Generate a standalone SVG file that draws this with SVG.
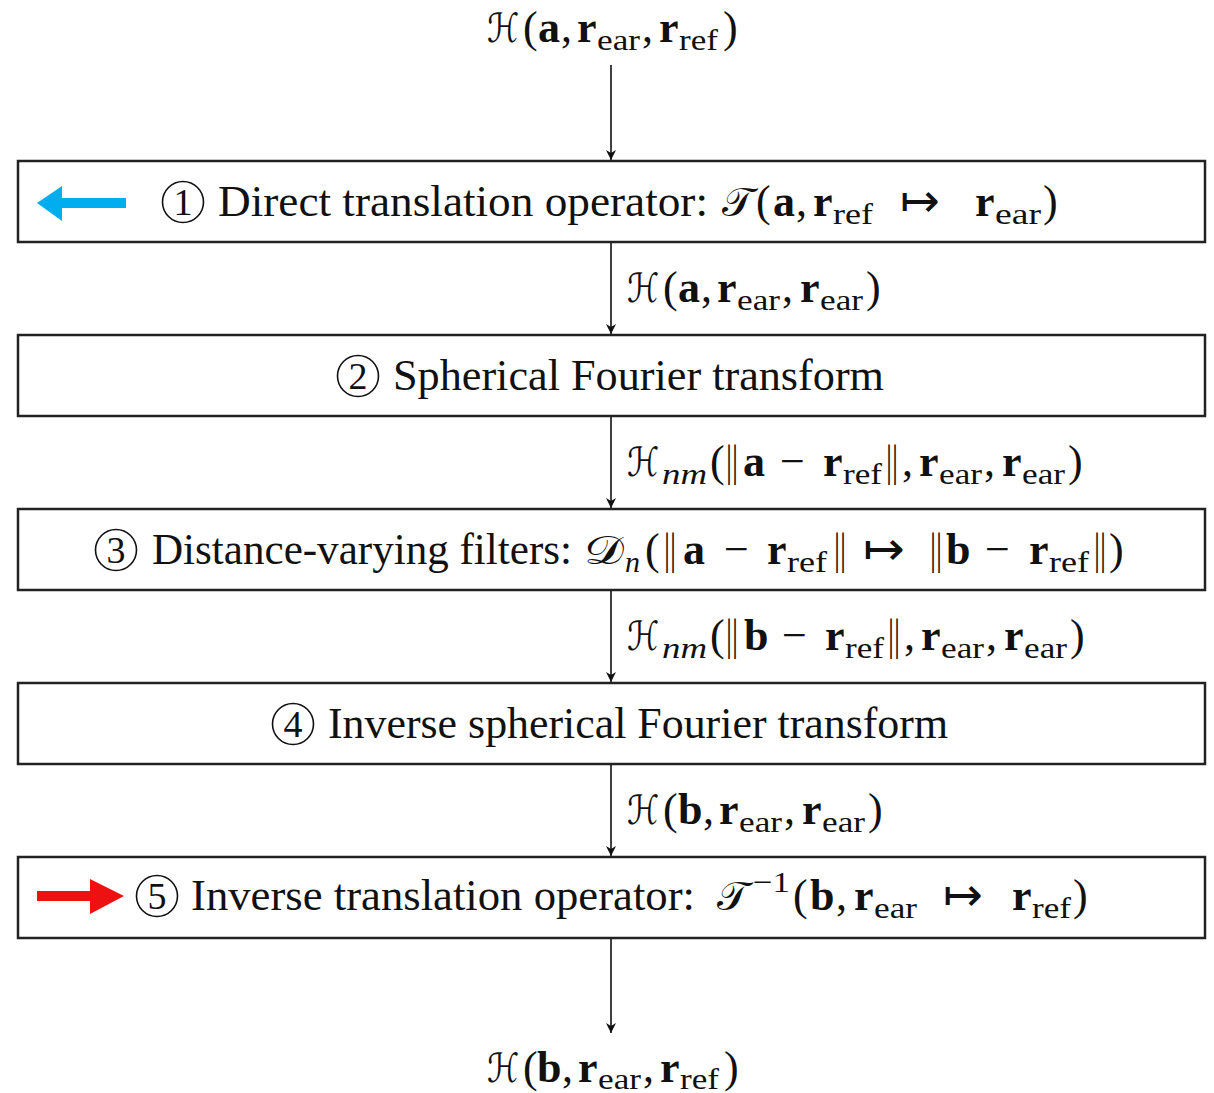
<svg xmlns="http://www.w3.org/2000/svg" width="1214" height="1093" viewBox="0 0 1214 1093">
<defs>
<style>
.m{font-family:"Liberation Serif","Times New Roman",serif;font-size:44px;fill:#111}
.bd{font-weight:bold}
.sb{font-size:30px}
.it{font-style:italic}
.cal{font-family:"DejaVu Sans","Noto Sans",sans-serif;font-style:normal;font-size:40px}
.box{fill:#fff;stroke:#222;stroke-width:2.5}
.num{fill:none;stroke:#111;stroke-width:1.6}
.dg{font-family:"Liberation Serif",serif;font-size:38px;fill:#111;text-anchor:middle}
.con{stroke:#111;stroke-width:1.6;fill:none;marker-end:url(#ah)}
</style>
<marker id="ah" viewBox="0 0 10 12" refX="10" refY="6" markerWidth="10" markerHeight="12" markerUnits="userSpaceOnUse" orient="auto">
<path d="M0,1 L10,6 L0,11 L3,6 Z" fill="#111"/>
</marker>
</defs>
<rect width="1214" height="1093" fill="#fff"/>

<g id="connectors">
<line class="con" x1="611" y1="65" x2="611" y2="160"/>
<line class="con" x1="611" y1="243" x2="611" y2="334"/>
<line class="con" x1="611" y1="417" x2="611" y2="508"/>
<line class="con" x1="611" y1="591" x2="611" y2="682"/>
<line class="con" x1="611" y1="765" x2="611" y2="856"/>
<line class="con" x1="611" y1="939" x2="611" y2="1033"/>
</g>

<g id="label-top">
<text class="m cal" x="487" y="42" textLength="32" lengthAdjust="spacingAndGlyphs">ℋ</text>
<text class="m" x="523" y="42">(</text>
<text class="m bd" x="538" y="42">a</text>
<text class="m" x="561" y="42">,</text>
<text class="m bd" x="577" y="42">r</text>
<text class="m sb" x="597" y="50" textLength="43" lengthAdjust="spacingAndGlyphs">ear</text>
<text class="m" x="642" y="42">,</text>
<text class="m bd" x="659" y="42">r</text>
<text class="m sb" x="679" y="50" textLength="39" lengthAdjust="spacingAndGlyphs">ref</text>
<text class="m" x="723" y="42">)</text>
</g>

<g id="node1">
<rect class="box" x="18" y="161" width="1187" height="81"/>
<polygon points="37,203 62,186 62,198 126,198 126,208 62,208 62,221" fill="#00AEEF"/>
<circle class="num" cx="183" cy="202" r="20.5"/>
<text class="dg" x="183" y="215">1</text>
<text class="m" x="218" y="216" textLength="490" lengthAdjust="spacingAndGlyphs">Direct translation operator:</text>
<text class="m cal" x="722" y="216" textLength="32" lengthAdjust="spacingAndGlyphs">𝒯</text>
<text class="m" x="756" y="216">(</text>
<text class="m bd" x="773" y="216">a</text>
<text class="m" x="796" y="216">,</text>
<text class="m bd" x="813" y="216">r</text>
<text class="m sb" x="833" y="224" textLength="40" lengthAdjust="spacingAndGlyphs">ref</text>
<text class="m" x="900" y="216" textLength="40" lengthAdjust="spacingAndGlyphs">↦</text>
<text class="m bd" x="975" y="216">r</text>
<text class="m sb" x="995" y="224" textLength="46" lengthAdjust="spacingAndGlyphs">ear</text>
<text class="m" x="1043" y="216">)</text>
</g>

<g id="label-1">
<text class="m cal" x="627" y="302" textLength="32" lengthAdjust="spacingAndGlyphs">ℋ</text>
<text class="m" x="663" y="302">(</text>
<text class="m bd" x="678" y="302">a</text>
<text class="m" x="701" y="302">,</text>
<text class="m bd" x="717" y="302">r</text>
<text class="m sb" x="737" y="310" textLength="43" lengthAdjust="spacingAndGlyphs">ear</text>
<text class="m" x="782" y="302">,</text>
<text class="m bd" x="800" y="302">r</text>
<text class="m sb" x="820" y="310" textLength="43" lengthAdjust="spacingAndGlyphs">ear</text>
<text class="m" x="866" y="302">)</text>
</g>

<g id="node2">
<rect class="box" x="18" y="335" width="1187" height="81"/>
<circle class="num" cx="358" cy="376" r="20.5"/>
<text class="dg" x="358" y="389">2</text>
<text class="m" x="393" y="390" textLength="491" lengthAdjust="spacingAndGlyphs">Spherical Fourier transform</text>
</g>

<g id="label-2">
<text class="m cal" x="627" y="476" textLength="32" lengthAdjust="spacingAndGlyphs">ℋ</text>
<text class="m sb it" x="662" y="484" textLength="45" lengthAdjust="spacingAndGlyphs">nm</text>
<text class="m" x="710" y="476">(</text>
<text class="m" x="726" y="476" textLength="12" lengthAdjust="spacingAndGlyphs">||</text>
<text class="m bd" x="743" y="476">a</text>
<text class="m" x="780" y="476">−</text>
<text class="m bd" x="823" y="476">r</text>
<text class="m sb" x="843" y="484" textLength="39" lengthAdjust="spacingAndGlyphs">ref</text>
<text class="m" x="886" y="476" textLength="12" lengthAdjust="spacingAndGlyphs">||</text>
<text class="m" x="902" y="476">,</text>
<text class="m bd" x="919" y="476">r</text>
<text class="m sb" x="939" y="484" textLength="43" lengthAdjust="spacingAndGlyphs">ear</text>
<text class="m" x="984" y="476">,</text>
<text class="m bd" x="1002" y="476">r</text>
<text class="m sb" x="1022" y="484" textLength="43" lengthAdjust="spacingAndGlyphs">ear</text>
<text class="m" x="1068" y="476">)</text>
</g>

<g id="node3">
<rect class="box" x="18" y="509" width="1187" height="81"/>
<circle class="num" cx="116" cy="550" r="20.5"/>
<text class="dg" x="116" y="563">3</text>
<text class="m" x="152" y="564" textLength="420" lengthAdjust="spacingAndGlyphs">Distance-varying filters:</text>
<text class="m cal" x="584" y="564" textLength="40" lengthAdjust="spacingAndGlyphs">𝒟</text>
<text class="m sb it" x="625" y="572">n</text>
<text class="m" x="645" y="564">(</text>
<text class="m" x="664" y="564" textLength="12" lengthAdjust="spacingAndGlyphs">||</text>
<text class="m bd" x="683" y="564">a</text>
<text class="m" x="724" y="564">−</text>
<text class="m bd" x="767" y="564">r</text>
<text class="m sb" x="787" y="572" textLength="40" lengthAdjust="spacingAndGlyphs">ref</text>
<text class="m" x="834" y="564" textLength="12" lengthAdjust="spacingAndGlyphs">||</text>
<text class="m" x="863" y="564" textLength="42" lengthAdjust="spacingAndGlyphs">↦</text>
<text class="m" x="930" y="564" textLength="12" lengthAdjust="spacingAndGlyphs">||</text>
<text class="m bd" x="946" y="564">b</text>
<text class="m" x="985" y="564">−</text>
<text class="m bd" x="1029" y="564">r</text>
<text class="m sb" x="1049" y="572" textLength="40" lengthAdjust="spacingAndGlyphs">ref</text>
<text class="m" x="1094" y="564" textLength="12" lengthAdjust="spacingAndGlyphs">||</text>
<text class="m" x="1109" y="564">)</text>
</g>

<g id="label-3">
<text class="m cal" x="627" y="650" textLength="32" lengthAdjust="spacingAndGlyphs">ℋ</text>
<text class="m sb it" x="662" y="658" textLength="45" lengthAdjust="spacingAndGlyphs">nm</text>
<text class="m" x="710" y="650">(</text>
<text class="m" x="726" y="650" textLength="12" lengthAdjust="spacingAndGlyphs">||</text>
<text class="m bd" x="744" y="650">b</text>
<text class="m" x="782" y="650">−</text>
<text class="m bd" x="825" y="650">r</text>
<text class="m sb" x="845" y="658" textLength="39" lengthAdjust="spacingAndGlyphs">ref</text>
<text class="m" x="888" y="650" textLength="12" lengthAdjust="spacingAndGlyphs">||</text>
<text class="m" x="904" y="650">,</text>
<text class="m bd" x="921" y="650">r</text>
<text class="m sb" x="941" y="658" textLength="43" lengthAdjust="spacingAndGlyphs">ear</text>
<text class="m" x="986" y="650">,</text>
<text class="m bd" x="1004" y="650">r</text>
<text class="m sb" x="1024" y="658" textLength="43" lengthAdjust="spacingAndGlyphs">ear</text>
<text class="m" x="1070" y="650">)</text>
</g>

<g id="node4">
<rect class="box" x="18" y="683" width="1187" height="81"/>
<circle class="num" cx="293" cy="724" r="20.5"/>
<text class="dg" x="293" y="737">4</text>
<text class="m" x="328" y="738" textLength="620" lengthAdjust="spacingAndGlyphs">Inverse spherical Fourier transform</text>
</g>

<g id="label-4">
<text class="m cal" x="627" y="824" textLength="32" lengthAdjust="spacingAndGlyphs">ℋ</text>
<text class="m" x="663" y="824">(</text>
<text class="m bd" x="678" y="824">b</text>
<text class="m" x="703" y="824">,</text>
<text class="m bd" x="719" y="824">r</text>
<text class="m sb" x="739" y="832" textLength="43" lengthAdjust="spacingAndGlyphs">ear</text>
<text class="m" x="784" y="824">,</text>
<text class="m bd" x="802" y="824">r</text>
<text class="m sb" x="822" y="832" textLength="43" lengthAdjust="spacingAndGlyphs">ear</text>
<text class="m" x="868" y="824">)</text>
</g>

<g id="node5">
<rect class="box" x="18" y="857" width="1187" height="81"/>
<polygon points="37,891 90,891 90,879 124,896 90,914 90,901 37,901" fill="#EE1111"/>
<circle class="num" cx="157" cy="896" r="20.5"/>
<text class="dg" x="157" y="909">5</text>
<text class="m" x="191" y="910" textLength="504" lengthAdjust="spacingAndGlyphs">Inverse translation operator:</text>
<text class="m cal" x="717" y="910" textLength="32" lengthAdjust="spacingAndGlyphs">𝒯</text>
<text class="m sb" x="753" y="892" textLength="37" lengthAdjust="spacingAndGlyphs">−1</text>
<text class="m" x="793" y="910">(</text>
<text class="m bd" x="810" y="910">b</text>
<text class="m" x="836" y="910">,</text>
<text class="m bd" x="854" y="910">r</text>
<text class="m sb" x="874" y="918" textLength="43" lengthAdjust="spacingAndGlyphs">ear</text>
<text class="m" x="943" y="910" textLength="40" lengthAdjust="spacingAndGlyphs">↦</text>
<text class="m bd" x="1012" y="910">r</text>
<text class="m sb" x="1032" y="918" textLength="39" lengthAdjust="spacingAndGlyphs">ref</text>
<text class="m" x="1073" y="910">)</text>
</g>

<g id="label-bottom">
<text class="m cal" x="487" y="1082" textLength="32" lengthAdjust="spacingAndGlyphs">ℋ</text>
<text class="m" x="523" y="1082">(</text>
<text class="m bd" x="537" y="1082">b</text>
<text class="m" x="562" y="1082">,</text>
<text class="m bd" x="578" y="1082">r</text>
<text class="m sb" x="598" y="1089" textLength="43" lengthAdjust="spacingAndGlyphs">ear</text>
<text class="m" x="643" y="1082">,</text>
<text class="m bd" x="660" y="1082">r</text>
<text class="m sb" x="680" y="1089" textLength="39" lengthAdjust="spacingAndGlyphs">ref</text>
<text class="m" x="724" y="1082">)</text>
</g>
</svg>
